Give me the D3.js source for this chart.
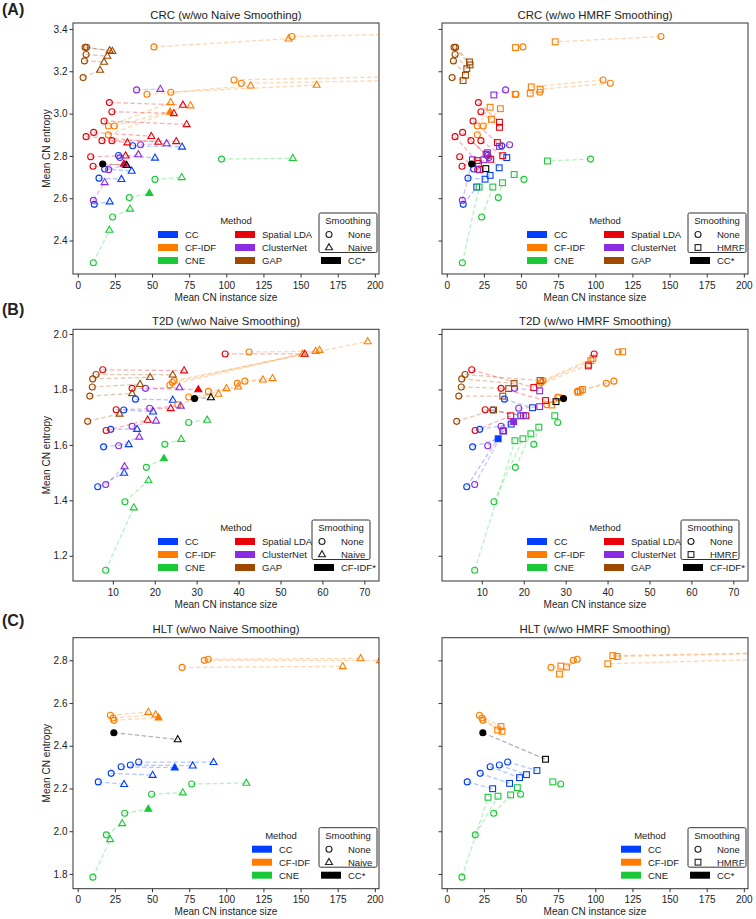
<!DOCTYPE html>
<html><head><meta charset="utf-8">
<script src="https://cdn.jsdelivr.net/npm/d3@7"></script>
<style>body{margin:0;background:#fff}svg{display:block}</style>
</head><body><svg id="c" width="756" height="919"></svg>
<script>
const methods = ["CC","CF-IDF","CNE","Spatial LDA","ClusterNet","GAP"];
const methodColors = ["#023eff","#ff7c00","#1ac938","#e8000b","#8b2be2","#9f4800"];

const xTicksWide = [0,25,50,75,100,125,150,175,200];
const xTicksT2D = [10,20,30,40,50,60,70];
const crcYTicks = [2.4,2.6,2.8,3.0,3.2,3.4];
const t2dYTicks = [1.2,1.4,1.6,1.8,2.0];
const hltYTicks = [1.8,2.0,2.2,2.4,2.6,2.8];

// [method, mean CN instance size, mean CN entropy, filled]
const crcNone = [
 ["CC",37.0,2.848],["CC",27.5,2.802],["CC",18.1,2.738],["CC",14.3,2.695],["CC",11.1,2.571],
 ["CF-IDF",51.3,3.315],["CF-IDF",144.2,3.364],["CF-IDF",105.2,3.159],["CF-IDF",110.1,3.143],["CF-IDF",62.6,3.101],["CF-IDF",46.6,3.091],["CF-IDF",20.6,2.941],["CF-IDF",24.6,2.941],["CF-IDF",20.6,2.900],
 ["CNE",10.5,2.295],["CNE",23.5,2.511],["CNE",34.7,2.603],["CNE",52.0,2.689],["CNE",96.8,2.785],
 ["Spatial LDA",21.3,3.052],["Spatial LDA",23.0,3.009],["Spatial LDA",17.7,2.965],["Spatial LDA",10.7,2.911],["Spatial LDA",5.6,2.891],["Spatial LDA",16.3,2.872],["Spatial LDA",23.0,2.872],["Spatial LDA",8.7,2.796],["Spatial LDA",10.3,2.751],
 ["ClusterNet",39.6,3.112],["ClusterNet",42.3,2.853],["ClusterNet",28.4,2.792],["ClusterNet",20.8,2.735],["ClusterNet",10.5,2.590],
 ["GAP",4.9,3.313],["GAP",6.0,3.313],["GAP",5.6,3.279],["GAP",4.5,3.249],["GAP",3.6,3.170],
 ["CC*",16.8,2.762,1]
];
const crcNaive = [
 ["CC",70.2,2.843],["CC",52.0,2.791],["CC",36.3,2.729],["CC",29.4,2.690],["CC",21.5,2.584],
 ["CF-IDF",141.9,3.354],["CF-IDF",240,3.379],["CF-IDF",260,3.180],["CF-IDF",250,3.161],["CF-IDF",160.8,3.135],["CF-IDF",116.4,3.132],["CF-IDF",62.5,3.053],["CF-IDF",75.9,3.038],["CF-IDF",62.1,3.008,1],
 ["CNE",21.3,2.450],["CNE",35.2,2.550],["CNE",48.2,2.624,1],["CNE",70.0,2.699],["CNE",144.8,2.789],
 ["Spatial LDA",70.8,3.041],["Spatial LDA",64.7,3.001],["Spatial LDA",73.3,2.949],["Spatial LDA",49.5,2.893],["Spatial LDA",54.2,2.866],["Spatial LDA",66.3,2.869],["Spatial LDA",33.4,2.863],["Spatial LDA",32.2,2.801],["Spatial LDA",31.1,2.762,1],
 ["ClusterNet",55.6,3.116],["ClusterNet",59.8,2.859],["ClusterNet",40.8,2.807],["ClusterNet",32.4,2.757],["ClusterNet",18.1,2.675],
 ["GAP",21.5,3.298],["GAP",23.3,3.295],["GAP",19.9,3.272],["GAP",17.7,3.244],["GAP",15.0,3.206],
 ["CC*",33.0,2.756]
];
const crcHmrf = [
 ["CC",40.4,2.792],["CC",35.3,2.744],["CC",29.2,2.708],["CC",25.8,2.690],["CC",20.2,2.653],
 ["CF-IDF",46.3,3.312],["CF-IDF",73.0,3.339],["CF-IDF",56.9,3.126],["CF-IDF",62.9,3.115],["CF-IDF",56.2,3.096],["CF-IDF",46.1,3.091],["CF-IDF",29.2,3.030],["CF-IDF",36.1,3.023],["CF-IDF",30.1,2.973],
 ["CNE",21.8,2.653],["CNE",31.0,2.653],["CNE",37.5,2.673],["CNE",45.4,2.712],["CNE",67.8,2.776],
 ["Spatial LDA",35.5,2.959],["Spatial LDA",35.5,2.935],["Spatial LDA",34.1,2.863],["Spatial LDA",29.6,2.784],["Spatial LDA",21.3,2.765],["Spatial LDA",26.5,2.808],["Spatial LDA",37.7,2.801],["Spatial LDA",22.0,2.735],["Spatial LDA",20.5,2.778],
 ["ClusterNet",31.7,3.088],["ClusterNet",35.5,2.845],["ClusterNet",27.4,2.815],["ClusterNet",25.0,2.782],["ClusterNet",17.3,2.782],
 ["GAP",15.7,3.230],["GAP",15.3,3.244],["GAP",13.5,3.212],["GAP",12.6,3.181],["GAP",11.0,3.156],
 ["CC*",26.3,2.740]
];

const t2dNone = [
 ["CC",15.4,1.765],["CC",12.6,1.726],["CC",9.5,1.656],["CC",7.8,1.593],["CC",6.4,1.449],
 ["CF-IDF",42.5,1.935],["CF-IDF",24.6,1.832],["CF-IDF",24.2,1.825],["CF-IDF",23.6,1.816],["CF-IDF",28.1,1.773],["CF-IDF",32.8,1.793],["CF-IDF",25.5,1.745],["CF-IDF",39.7,1.822],["CF-IDF",41.5,1.830],
 ["CNE",28.1,1.681],["CNE",22.4,1.602],["CNE",18.0,1.519],["CNE",12.9,1.395],["CNE",8.3,1.148],
 ["Spatial LDA",7.6,1.871],["Spatial LDA",36.8,1.928],["Spatial LDA",14.6,1.804],["Spatial LDA",10.8,1.727],["Spatial LDA",8.4,1.652],
 ["ClusterNet",17.8,1.804],["ClusterNet",18.8,1.732],["ClusterNet",14.6,1.667],["ClusterNet",11.4,1.597],["ClusterNet",8.3,1.457],
 ["GAP",6.0,1.854],["GAP",5.2,1.838],["GAP",5.1,1.809],["GAP",4.5,1.776],["GAP",4.0,1.685],
 ["CF-IDF*",29.5,1.767,1]
];
const t2dNaive = [
 ["CC",24.3,1.762],["CC",19.6,1.720],["CC",15.8,1.657],["CC",13.8,1.602],["CC",12.7,1.499],
 ["CF-IDF",58.4,1.938],["CF-IDF",70.8,1.973],["CF-IDF",59.3,1.942],["CF-IDF",55.3,1.928],["CF-IDF",35.2,1.784],["CF-IDF",39.9,1.810],["CF-IDF",37.1,1.804],["CF-IDF",45.8,1.835],["CF-IDF",48.1,1.840],
 ["CNE",32.5,1.690],["CNE",26.3,1.621],["CNE",22.2,1.551,1],["CNE",18.5,1.472],["CNE",15.0,1.374],
 ["Spatial LDA",27.0,1.868],["Spatial LDA",55.8,1.928],["Spatial LDA",30.4,1.800,1],["Spatial LDA",23.8,1.732],["Spatial LDA",18.3,1.690],
 ["ClusterNet",25.9,1.807],["ClusterNet",26.2,1.741],["ClusterNet",20.3,1.687],["ClusterNet",16.3,1.629],["ClusterNet",12.8,1.522],
 ["GAP",24.3,1.853],["GAP",18.9,1.844],["GAP",16.5,1.819],["GAP",14.6,1.786],["GAP",11.6,1.712],
 ["CF-IDF*",33.4,1.771]
];
const t2dHmrf = [
 ["CC",22.1,1.734],["CC",19.3,1.705],["CC",17.0,1.675],["CC",13.9,1.622,1],["CC",15.0,1.651],
 ["CF-IDF",43.6,1.936],["CF-IDF",36.5,1.912],["CF-IDF",36.0,1.904],["CF-IDF",35.5,1.890],["CF-IDF",26.7,1.744],["CF-IDF",33.0,1.790],["CF-IDF",28.4,1.770],["CF-IDF",33.5,1.795],["CF-IDF",34.0,1.800],
 ["CNE",27.4,1.705],["CNE",23.6,1.664],["CNE",21.7,1.640],["CNE",19.8,1.622],["CNE",17.9,1.615],
 ["Spatial LDA",22.4,1.807],["Spatial LDA",35.4,1.885],["Spatial LDA",25.2,1.760],["Spatial LDA",20.5,1.705],["Spatial LDA",16.9,1.705],
 ["ClusterNet",23.8,1.795],["ClusterNet",23.8,1.738],["ClusterNet",19.9,1.706],["ClusterNet",17.6,1.684,1],["ClusterNet",15.2,1.650],
 ["GAP",23.9,1.832],["GAP",17.7,1.822],["GAP",16.4,1.803],["GAP",15.0,1.776],["GAP",12.8,1.726],
 ["CF-IDF*",27.7,1.756]
];

const hltNone = [
 ["CC",13.8,2.231],["CC",22.5,2.271],["CC",29.2,2.302],["CC",35.4,2.310],["CC",41.0,2.324],
 ["CF-IDF",22.0,2.543],["CF-IDF",23.8,2.530],["CF-IDF",24.3,2.519],["CF-IDF",70.2,2.767],["CF-IDF",85.2,2.800],["CF-IDF",87.8,2.805],["CF-IDF",240,2.838],["CF-IDF",240,2.810],["CF-IDF",240,2.836],
 ["CNE",10.2,1.785],["CNE",19.2,1.983],["CNE",31.6,2.084],["CNE",49.7,2.173],["CNE",76.7,2.221],
 ["CC*",24.3,2.461,1]
];
const hltNaive = [
 ["CC",31.2,2.220],["CC",50.4,2.263],["CC",65.3,2.298,1],["CC",77.4,2.307],["CC",91.4,2.323],
 ["CF-IDF",47.5,2.558],["CF-IDF",52.4,2.546],["CF-IDF",54.4,2.532,1],["CF-IDF",178.4,2.772],["CF-IDF",203.5,2.800],["CF-IDF",190.4,2.809],["CF-IDF",420,2.850],["CF-IDF",430,2.820],["CF-IDF",410,2.840],
 ["CNE",21.8,1.962],["CNE",29.9,2.037],["CNE",47.5,2.104,1],["CNE",70.7,2.181],["CNE",113.5,2.226],
 ["CC*",67.3,2.430]
];
const hltHmrf = [
 ["CC",30.9,2.199],["CC",42.3,2.224],["CC",49.0,2.251],["CC",53.7,2.265],["CC",60.7,2.284],
 ["CF-IDF",36.5,2.490],["CF-IDF",34.3,2.474],["CF-IDF",37.2,2.468],["CF-IDF",76.8,2.773],["CF-IDF",80.6,2.769],["CF-IDF",75.9,2.736],["CF-IDF",111.8,2.822],["CF-IDF",108.4,2.784],["CF-IDF",114.7,2.818],
 ["CNE",27.8,2.159],["CNE",34.5,2.164],["CNE",43.0,2.170],["CNE",47.5,2.204],["CNE",71.4,2.231],
 ["CC*",66.5,2.337]
];

// ---------- layout ----------
const FONT = '"Liberation Sans", Arial, Helvetica, sans-serif';
const FS = 10;     // ticks / axis labels
const LFS = 9.5;   // legend text
const colsX = [[73,379],[442,748]];
const rowsY = [[23,274],[329.3,581],[637.7,888.7]];
const panelLetters = [["(A)",14.5],["(B)",314.5],["(C)",626]];
const wideX = [-3.2,202.8];

const panels = [
 {row:0,col:0,title:"CRC (w/wo Naive Smoothing)",none:crcNone,sm:crcNaive,shape:"tri",smLabel:"Naive",xDom:wideX,yDom:[2.242,3.428],xT:xTicksWide,yT:crcYTicks,nM:6,ref:"CC*",shift:0},
 {row:0,col:1,title:"CRC (w/wo HMRF Smoothing)",none:crcNone,sm:crcHmrf,shape:"sq",smLabel:"HMRF",xDom:wideX,yDom:[2.242,3.428],xT:xTicksWide,yT:crcYTicks,nM:6,ref:"CC*",shift:0},
 {row:1,col:0,title:"T2D (w/wo Naive Smoothing)",none:t2dNone,sm:t2dNaive,shape:"tri",smLabel:"Naive",xDom:[0.5,73.5],yDom:[1.109,2.017],xT:xTicksT2D,yT:t2dYTicks,nM:6,ref:"CF-IDF*",shift:-7},
 {row:1,col:1,title:"T2D (w/wo HMRF Smoothing)",none:t2dNone,sm:t2dHmrf,shape:"sq",smLabel:"HMRF",xDom:[0.5,73.5],yDom:[1.109,2.017],xT:xTicksT2D,yT:t2dYTicks,nM:6,ref:"CF-IDF*",shift:-7},
 {row:2,col:0,title:"HLT (w/wo Naive Smoothing)",none:hltNone,sm:hltNaive,shape:"tri",smLabel:"Naive",xDom:wideX,yDom:[1.731,2.906],xT:xTicksWide,yT:hltYTicks,nM:3,ref:"CC*",shift:0},
 {row:2,col:1,title:"HLT (w/wo HMRF Smoothing)",none:hltNone,sm:hltHmrf,shape:"sq",smLabel:"HMRF",xDom:wideX,yDom:[1.731,2.906],xT:xTicksWide,yT:hltYTicks,nM:3,ref:"CC*",shift:0}
];

const svg = d3.select("#c");
svg.append("rect").attr("width",756).attr("height",919).attr("fill","#fff");
const defs = svg.append("defs");

function colorOf(m){ return m.endsWith("*") ? "#000000" : methodColors[methods.indexOf(m)]; }

function marker(g, shape, cx, cy, color, filled){
  let el;
  if(shape==="circle") el = g.append("circle").attr("cx",cx).attr("cy",cy).attr("r",3);
  else if(shape==="tri") el = g.append("path").attr("d",`M${cx},${cy-3.8}L${cx+3.5},${cy+2.3}L${cx-3.5},${cy+2.3}Z`);
  else el = g.append("rect").attr("x",cx-2.9).attr("y",cy-2.9).attr("width",5.8).attr("height",5.8);
  el.attr("fill", filled ? color : "none").attr("stroke", color).attr("stroke-width",1.1);
  return el;
}

function txt(g,x,y,s,opt){
  opt = opt||{};
  return g.append("text").attr("x",x).attr("y",y).attr("font-family",FONT)
    .attr("font-size",opt.size||FS).attr("fill","#222").attr("text-anchor",opt.anchor||"start")
    .attr("font-weight",opt.weight||"normal").text(s);
}

function drawLegend(g, R, B, p){
  const rc = [B-39.5, B-26.5, B-13.5];
  const L = {size:LFS};
  if(p.nM===6){
    txt(g,R-143,B-50,"Method",{anchor:"middle",size:LFS});
    methods.forEach((m,i)=>{
      const col = Math.floor(i/3), r = i%3;
      const sx = col===0 ? R-221 : R-144;
      g.append("rect").attr("x",sx).attr("y",rc[r]-3.5).attr("width",20).attr("height",7).attr("fill",methodColors[i]);
      txt(g,sx+27,rc[r]+3.5,m,L);
    });
  } else {
    txt(g,R-98,B-50,"Method",{anchor:"middle",size:LFS});
    methods.slice(0,3).forEach((m,i)=>{
      const sx = R-127;
      g.append("rect").attr("x",sx).attr("y",rc[i]-3.5).attr("width",20).attr("height",7).attr("fill",methodColors[i]);
      txt(g,sx+27,rc[i]+3.5,m,L);
    });
  }
  const sh = p.shift;
  g.append("rect").attr("x",R-60+sh).attr("y",B-61).attr("width",58).attr("height",39.5)
    .attr("fill","#fff").attr("stroke","#333").attr("stroke-width",1).attr("rx",1.5);
  txt(g,R-31+sh,B-50,"Smoothing",{anchor:"middle",size:LFS});
  marker(g,"circle",R-50+sh,rc[0],"#222",false);
  txt(g,R-31+sh,rc[0]+3.5,"None",L);
  marker(g,p.shape,R-50+sh,rc[1],"#222",false);
  txt(g,R-31+sh,rc[1]+3.5,p.smLabel,L);
  g.append("rect").attr("x",R-58+sh).attr("y",rc[2]-3.5).attr("width",20).attr("height",7).attr("fill","#000");
  txt(g,R-31+sh,rc[2]+3.5,p.ref,L);
}

panels.forEach((p,idx)=>{
  const [x0,x1] = colsX[p.col], [y0,y1] = rowsY[p.row];
  const x = d3.scaleLinear().domain(p.xDom).range([x0,x1]);
  const y = d3.scaleLinear().domain(p.yDom).range([y1,y0]);
  const g = svg.append("g");
  const cid = "clip"+idx;
  defs.append("clipPath").attr("id",cid).append("rect").attr("x",x0).attr("y",y0).attr("width",x1-x0).attr("height",y1-y0);

  const ax = g.append("g").attr("transform",`translate(0,${y1})`)
    .call(d3.axisBottom(x).tickValues(p.xT).tickSize(3.5).tickPadding(4).tickFormat(d3.format("d")));
  const ay = g.append("g").attr("transform",`translate(${x0},0)`)
    .call(d3.axisLeft(y).tickValues(p.yT).tickSize(3.5).tickPadding(2).tickFormat(p.col===0 ? d3.format(".1f") : ()=>""));
  [ax,ay].forEach(a=>{
    a.select(".domain").remove();
    a.selectAll("line").attr("stroke","#333");
    a.selectAll("text").attr("font-size",FS).attr("font-family",FONT).attr("fill","#222");
  });

  const plot = g.append("g").attr("clip-path",`url(#${cid})`);
  p.none.forEach((d,i)=>{
    const s = p.sm[i], c = colorOf(d[0]);
    plot.append("line").attr("x1",x(d[1])).attr("y1",y(d[2])).attr("x2",x(s[1])).attr("y2",y(s[2]))
      .attr("stroke",c).attr("stroke-opacity",0.3).attr("stroke-width",1.3).attr("stroke-dasharray","4.5,2.5");
  });
  p.none.forEach((d,i)=>{
    const s = p.sm[i], c = colorOf(d[0]);
    marker(plot,"circle",x(d[1]),y(d[2]),c,d[3]===1);
    marker(plot,p.shape,x(s[1]),y(s[2]),c,s[3]===1);
  });

  g.append("rect").attr("x",x0).attr("y",y0).attr("width",x1-x0).attr("height",y1-y0)
    .attr("fill","none").attr("stroke","#333").attr("stroke-width",1);

  txt(g,(x0+x1)/2,y0-4.5,p.title,{anchor:"middle",size:11.4});
  txt(g,(x0+x1)/2,y1+26.5,"Mean CN instance size",{anchor:"middle"});
  if(p.col===0){
    txt(g,0,0,"Mean CN entropy",{anchor:"middle"}).attr("transform",`translate(50,${(y0+y1)/2}) rotate(-90)`);
    txt(g,2,panelLetters[p.row][1],panelLetters[p.row][0],{size:16,weight:"bold"});
  }
  drawLegend(g,x1,y1,p);
});
</script></body></html>
